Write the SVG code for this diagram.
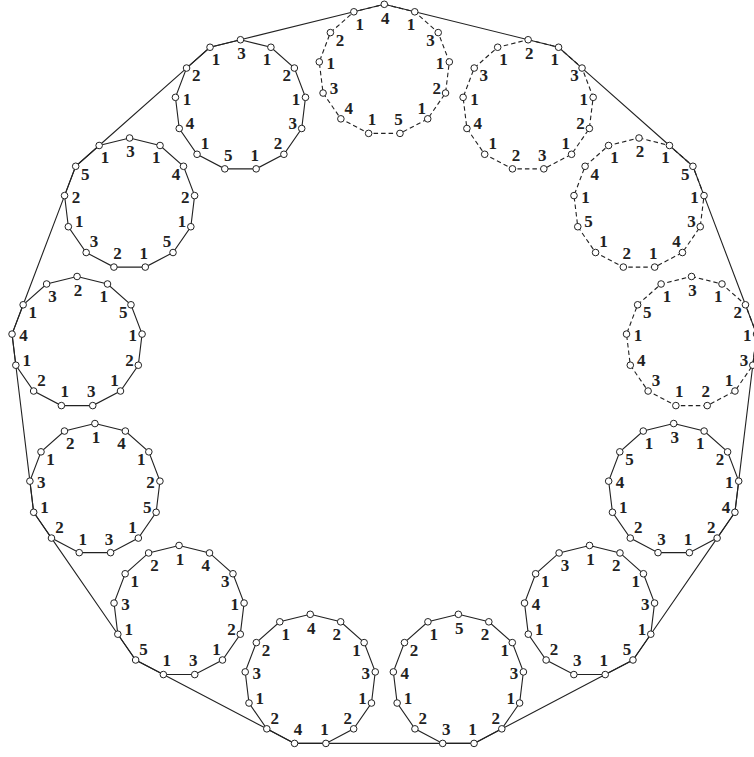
<svg xmlns="http://www.w3.org/2000/svg" xmlns:xlink="http://www.w3.org/1999/xlink" width="754" height="757" viewBox="0 0 754 757">
<style>
.sp{fill:none;stroke:#222;stroke-width:1.1}
.dp{fill:none;stroke:#222;stroke-width:1.1;stroke-dasharray:4.5 3}
.outer{fill:none;stroke:#222;stroke-width:1.1;stroke-linejoin:round}
text{font-family:"Liberation Serif","Times New Roman",serif;font-size:17px;font-weight:bold;text-anchor:middle;dominant-baseline:central;fill:#222}
</style>
<defs>
<polygon id="poly" points="0,-65.5 30.44,-58 53.91,-37.21 65.02,-7.9 61.24,23.23 43.43,49.03 15.68,63.6 -15.68,63.6 -43.43,49.03 -61.24,23.23 -65.02,-7.9 -53.91,-37.21 -30.44,-58"/>
<g id="dots" fill="#fff" stroke="#222" stroke-width="1">
<circle cx="0" cy="-65.5" r="3.3"/><circle cx="30.44" cy="-58" r="3.3"/><circle cx="53.91" cy="-37.21" r="3.3"/><circle cx="65.02" cy="-7.9" r="3.3"/><circle cx="61.24" cy="23.23" r="3.3"/><circle cx="43.43" cy="49.03" r="3.3"/><circle cx="15.68" cy="63.6" r="3.3"/><circle cx="-15.68" cy="63.6" r="3.3"/><circle cx="-43.43" cy="49.03" r="3.3"/><circle cx="-61.24" cy="23.23" r="3.3"/><circle cx="-65.02" cy="-7.9" r="3.3"/><circle cx="-53.91" cy="-37.21" r="3.3"/><circle cx="-30.44" cy="-58" r="3.3"/>
</g>
</defs>
<g id="connectors">
<polygon class="outer" points="353.86,11.8 384.3,4.3 414.74,11.8 528.13,39.75 558.57,47.25 582.04,68.04 669.45,145.49 692.92,166.28 704.03,195.59 745.45,304.78 756.56,334.09 752.78,365.22 738.71,481.15 734.93,512.28 717.12,538.08 650.78,634.19 632.97,659.99 605.22,674.56 501.8,728.84 474.05,743.41 442.69,743.41 325.91,743.41 294.55,743.41 266.8,728.84 163.38,674.56 135.63,659.99 117.82,634.19 51.48,538.08 33.67,512.28 29.89,481.15 15.82,365.22 12.04,334.09 23.15,304.78 64.57,195.59 75.68,166.28 99.15,145.49 186.56,68.04 210.03,47.25 240.47,39.75"/>
</g>
<g id="n0" transform="translate(384.3,69.8)">
<use xlink:href="#poly" class="dp"/><use xlink:href="#dots"/>
<text x="1" y="-51.5">4</text><text x="26.6" y="-45.6">1</text><text x="46.3" y="-29.3">3</text><text x="55.6" y="-6.2">1</text><text x="52.4" y="18.3">2</text><text x="37.5" y="38.5">1</text><text x="14.2" y="50">5</text><text x="-12.2" y="50">1</text><text x="-35.5" y="38.5">4</text><text x="-50.4" y="18.3">3</text><text x="-53.6" y="-6.2">1</text><text x="-44.3" y="-29.3">2</text><text x="-24.6" y="-45.6">1</text>
</g>
<g id="n1" transform="translate(528.13,105.25)">
<use xlink:href="#poly" class="dp"/><use xlink:href="#dots"/>
<text x="1" y="-51.5">2</text><text x="26.6" y="-45.6">1</text><text x="46.3" y="-29.3">3</text><text x="55.6" y="-6.2">1</text><text x="52.4" y="18.3">2</text><text x="37.5" y="38.5">1</text><text x="14.2" y="50">3</text><text x="-12.2" y="50">2</text><text x="-35.5" y="38.5">1</text><text x="-50.4" y="18.3">4</text><text x="-53.6" y="-6.2">1</text><text x="-44.3" y="-29.3">3</text><text x="-24.6" y="-45.6">1</text>
</g>
<g id="n2" transform="translate(639.01,203.49)">
<use xlink:href="#poly" class="dp"/><use xlink:href="#dots"/>
<text x="1" y="-51.5">2</text><text x="26.6" y="-45.6">1</text><text x="46.3" y="-29.3">5</text><text x="55.6" y="-6.2">1</text><text x="52.4" y="18.3">3</text><text x="37.5" y="38.5">4</text><text x="14.2" y="50">1</text><text x="-12.2" y="50">2</text><text x="-35.5" y="38.5">1</text><text x="-50.4" y="18.3">5</text><text x="-53.6" y="-6.2">1</text><text x="-44.3" y="-29.3">4</text><text x="-24.6" y="-45.6">1</text>
</g>
<g id="n3" transform="translate(691.54,341.99)">
<use xlink:href="#poly" class="dp"/><use xlink:href="#dots"/>
<text x="1" y="-51.5">3</text><text x="26.6" y="-45.6">1</text><text x="46.3" y="-29.3">2</text><text x="55.6" y="-6.2">1</text><text x="52.4" y="18.3">3</text><text x="37.5" y="38.5">1</text><text x="14.2" y="50">2</text><text x="-12.2" y="50">1</text><text x="-35.5" y="38.5">3</text><text x="-50.4" y="18.3">4</text><text x="-53.6" y="-6.2">1</text><text x="-44.3" y="-29.3">5</text><text x="-24.6" y="-45.6">1</text>
</g>
<g id="n4" transform="translate(673.69,489.05)">
<use xlink:href="#poly" class="sp"/><use xlink:href="#dots"/>
<text x="1" y="-51.5">3</text><text x="26.6" y="-45.6">1</text><text x="46.3" y="-29.3">2</text><text x="55.6" y="-6.2">1</text><text x="52.4" y="18.3">4</text><text x="37.5" y="38.5">2</text><text x="14.2" y="50">1</text><text x="-12.2" y="50">3</text><text x="-35.5" y="38.5">2</text><text x="-50.4" y="18.3">1</text><text x="-53.6" y="-6.2">4</text><text x="-44.3" y="-29.3">5</text><text x="-24.6" y="-45.6">1</text>
</g>
<g id="n5" transform="translate(589.54,610.96)">
<use xlink:href="#poly" class="sp"/><use xlink:href="#dots"/>
<text x="1" y="-51.5">1</text><text x="26.6" y="-45.6">2</text><text x="46.3" y="-29.3">1</text><text x="55.6" y="-6.2">3</text><text x="52.4" y="18.3">1</text><text x="37.5" y="38.5">5</text><text x="14.2" y="50">1</text><text x="-12.2" y="50">3</text><text x="-35.5" y="38.5">2</text><text x="-50.4" y="18.3">1</text><text x="-53.6" y="-6.2">4</text><text x="-44.3" y="-29.3">1</text><text x="-24.6" y="-45.6">3</text>
</g>
<g id="n6" transform="translate(458.37,679.81)">
<use xlink:href="#poly" class="sp"/><use xlink:href="#dots"/>
<text x="1" y="-51.5">5</text><text x="26.6" y="-45.6">2</text><text x="46.3" y="-29.3">1</text><text x="55.6" y="-6.2">3</text><text x="52.4" y="18.3">1</text><text x="37.5" y="38.5">2</text><text x="14.2" y="50">1</text><text x="-12.2" y="50">3</text><text x="-35.5" y="38.5">2</text><text x="-50.4" y="18.3">1</text><text x="-53.6" y="-6.2">4</text><text x="-44.3" y="-29.3">2</text><text x="-24.6" y="-45.6">1</text>
</g>
<g id="n7" transform="translate(310.23,679.81)">
<use xlink:href="#poly" class="sp"/><use xlink:href="#dots"/>
<text x="1" y="-51.5">4</text><text x="26.6" y="-45.6">2</text><text x="46.3" y="-29.3">1</text><text x="55.6" y="-6.2">3</text><text x="52.4" y="18.3">1</text><text x="37.5" y="38.5">2</text><text x="14.2" y="50">1</text><text x="-12.2" y="50">4</text><text x="-35.5" y="38.5">2</text><text x="-50.4" y="18.3">1</text><text x="-53.6" y="-6.2">3</text><text x="-44.3" y="-29.3">2</text><text x="-24.6" y="-45.6">1</text>
</g>
<g id="n8" transform="translate(179.06,610.96)">
<use xlink:href="#poly" class="sp"/><use xlink:href="#dots"/>
<text x="1" y="-51.5">1</text><text x="26.6" y="-45.6">4</text><text x="46.3" y="-29.3">3</text><text x="55.6" y="-6.2">1</text><text x="52.4" y="18.3">2</text><text x="37.5" y="38.5">1</text><text x="14.2" y="50">3</text><text x="-12.2" y="50">1</text><text x="-35.5" y="38.5">5</text><text x="-50.4" y="18.3">1</text><text x="-53.6" y="-6.2">3</text><text x="-44.3" y="-29.3">1</text><text x="-24.6" y="-45.6">2</text>
</g>
<g id="n9" transform="translate(94.91,489.05)">
<use xlink:href="#poly" class="sp"/><use xlink:href="#dots"/>
<text x="1" y="-51.5">1</text><text x="26.6" y="-45.6">4</text><text x="46.3" y="-29.3">1</text><text x="55.6" y="-6.2">2</text><text x="52.4" y="18.3">5</text><text x="37.5" y="38.5">1</text><text x="14.2" y="50">3</text><text x="-12.2" y="50">1</text><text x="-35.5" y="38.5">2</text><text x="-50.4" y="18.3">1</text><text x="-53.6" y="-6.2">3</text><text x="-44.3" y="-29.3">1</text><text x="-24.6" y="-45.6">2</text>
</g>
<g id="n10" transform="translate(77.06,341.99)">
<use xlink:href="#poly" class="sp"/><use xlink:href="#dots"/>
<text x="1" y="-51.5">2</text><text x="26.6" y="-45.6">1</text><text x="46.3" y="-29.3">5</text><text x="55.6" y="-6.2">1</text><text x="52.4" y="18.3">2</text><text x="37.5" y="38.5">1</text><text x="14.2" y="50">3</text><text x="-12.2" y="50">1</text><text x="-35.5" y="38.5">2</text><text x="-50.4" y="18.3">1</text><text x="-53.6" y="-6.2">4</text><text x="-44.3" y="-29.3">1</text><text x="-24.6" y="-45.6">3</text>
</g>
<g id="n11" transform="translate(129.59,203.49)">
<use xlink:href="#poly" class="sp"/><use xlink:href="#dots"/>
<text x="1" y="-51.5">3</text><text x="26.6" y="-45.6">1</text><text x="46.3" y="-29.3">4</text><text x="55.6" y="-6.2">2</text><text x="52.4" y="18.3">1</text><text x="37.5" y="38.5">5</text><text x="14.2" y="50">1</text><text x="-12.2" y="50">2</text><text x="-35.5" y="38.5">3</text><text x="-50.4" y="18.3">1</text><text x="-53.6" y="-6.2">2</text><text x="-44.3" y="-29.3">5</text><text x="-24.6" y="-45.6">1</text>
</g>
<g id="n12" transform="translate(240.47,105.25)">
<use xlink:href="#poly" class="sp"/><use xlink:href="#dots"/>
<text x="1" y="-51.5">3</text><text x="26.6" y="-45.6">1</text><text x="46.3" y="-29.3">2</text><text x="55.6" y="-6.2">1</text><text x="52.4" y="18.3">3</text><text x="37.5" y="38.5">2</text><text x="14.2" y="50">1</text><text x="-12.2" y="50">5</text><text x="-35.5" y="38.5">1</text><text x="-50.4" y="18.3">4</text><text x="-53.6" y="-6.2">1</text><text x="-44.3" y="-29.3">2</text><text x="-24.6" y="-45.6">1</text>
</g>
</svg>
